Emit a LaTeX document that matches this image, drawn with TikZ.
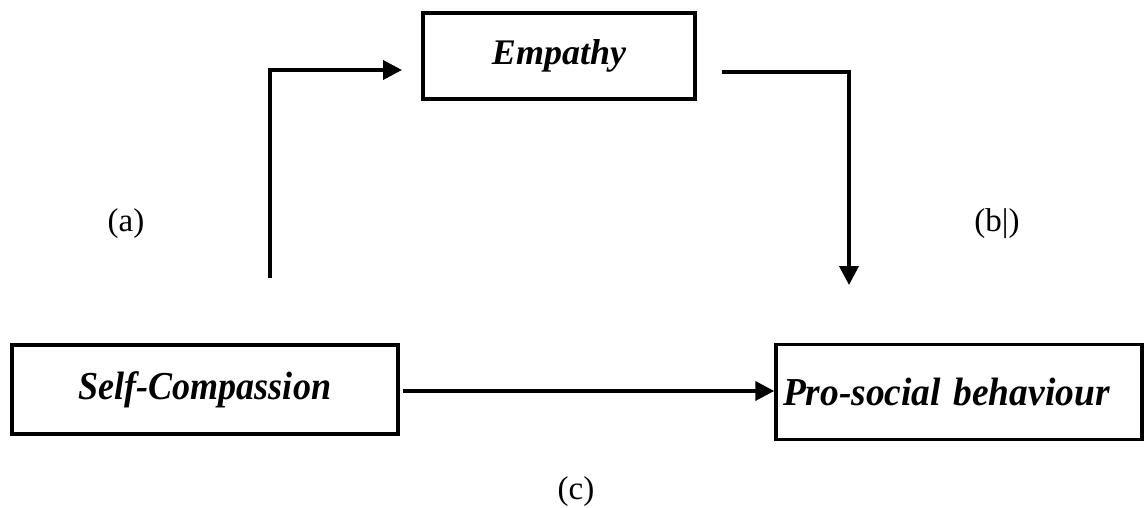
\documentclass[tikz,border=0pt]{standalone}
\usepackage{fontspec}
\usepackage{graphicx}
\setmainfont{Liberation Serif}
\usetikzlibrary{arrows.meta}
\tikzset{
  box/.style={draw, line width=3.5pt, inner sep=0pt, font=\fontsize{36}{40}\selectfont\bfseries\itshape},
  conn/.style={line width=3.8pt, -{Triangle[length=19pt,width=19pt]}},
  lab/.style={font=\fontsize{33}{36}\selectfont, inner sep=0pt}
}
\newcommand{\tallbox}[1]{\raisebox{-3pt}{\scalebox{1}[1.1]{#1}}}
\begin{document}
\begin{tikzpicture}[x=1pt,y=-1pt]
\useasboundingbox (0,0) rectangle (1145,508);
\node[box, minimum width=272pt, minimum height=86pt] (emp) at (559,56) {Empathy};
\node[box, minimum width=386pt, minimum height=89pt] (sc) at (205,389.5) {\tallbox{Self-Compassion}};
\node[box, text width=352pt, inner xsep=7pt, align=left, minimum height=95pt] (ps) at (959,392) {\tallbox{\scalebox{1.04}[1]{Pro-social behaviour}}};
\coordinate (a0) at (270,278);
\coordinate (a1) at (402,70);
\coordinate (b0) at (722,72);
\coordinate (b1) at (849,285);
\draw[conn, line join=miter] (a0) |- (a1);
\draw[conn, line join=miter] (b0) -| (b1);
\draw[conn] ([xshift=3pt]sc.east |- 0,391) -- (ps.west |- 0,391);
\node[lab] (la) at (126,224) {(a)};
\node[lab] (lb) at (997,224) {(b|)};
\node[lab] (lc) at (576,492) {(c)};
\end{tikzpicture}
\end{document}
